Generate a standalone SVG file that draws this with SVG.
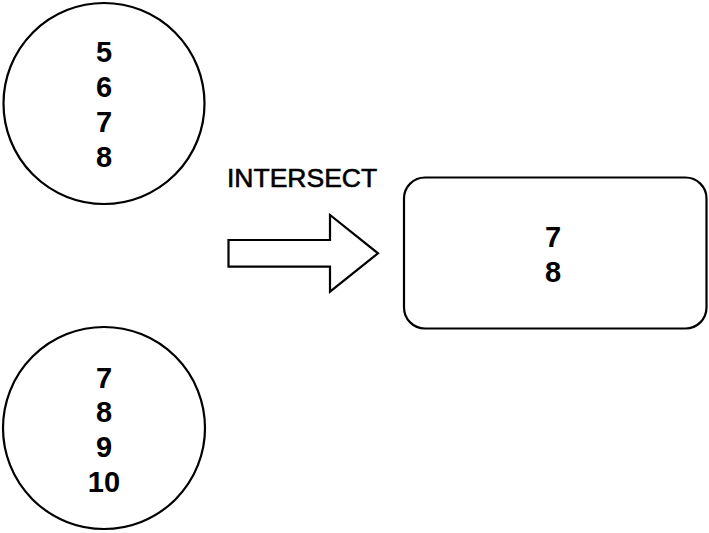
<svg xmlns="http://www.w3.org/2000/svg" width="709" height="533" viewBox="0 0 709 533">
<style>
.shape{fill:#fff;stroke:#000;stroke-width:2.2}
.num{font-family:"Liberation Sans",Arial,sans-serif;font-weight:bold;font-size:29px;text-anchor:middle;fill:#000}
.lbl{font-family:"Liberation Sans",Arial,sans-serif;font-size:26.5px;fill:#000;stroke:#000;stroke-width:0.6}
</style>
<rect width="709" height="533" fill="#fff"/>
<g id="setA">
<circle class="shape" cx="104" cy="103.5" r="100.5"/>
<text class="num" x="104" y="62">5</text>
<text class="num" x="104" y="97">6</text>
<text class="num" x="104" y="132">7</text>
<text class="num" x="104" y="167">8</text>
</g>
<g id="setB">
<circle class="shape" cx="104" cy="428" r="101"/>
<text class="num" x="104" y="388">7</text>
<text class="num" x="104" y="422">8</text>
<text class="num" x="104" y="457">9</text>
<text class="num" x="104" y="492">10</text>
</g>
<g id="connectors">
<text class="lbl" x="227" y="187">INTERSECT</text>
<path class="shape" d="M228.5,240 L330,240 L330,215 L378,253.3 L330,291.7 L330,266.7 L228.5,266.7 Z"/>
</g>
<g id="result">
<rect class="shape" x="404" y="177.5" width="302.5" height="151" rx="21" ry="21"/>
<text class="num" x="553" y="247">7</text>
<text class="num" x="553" y="282">8</text>
</g>
</svg>
